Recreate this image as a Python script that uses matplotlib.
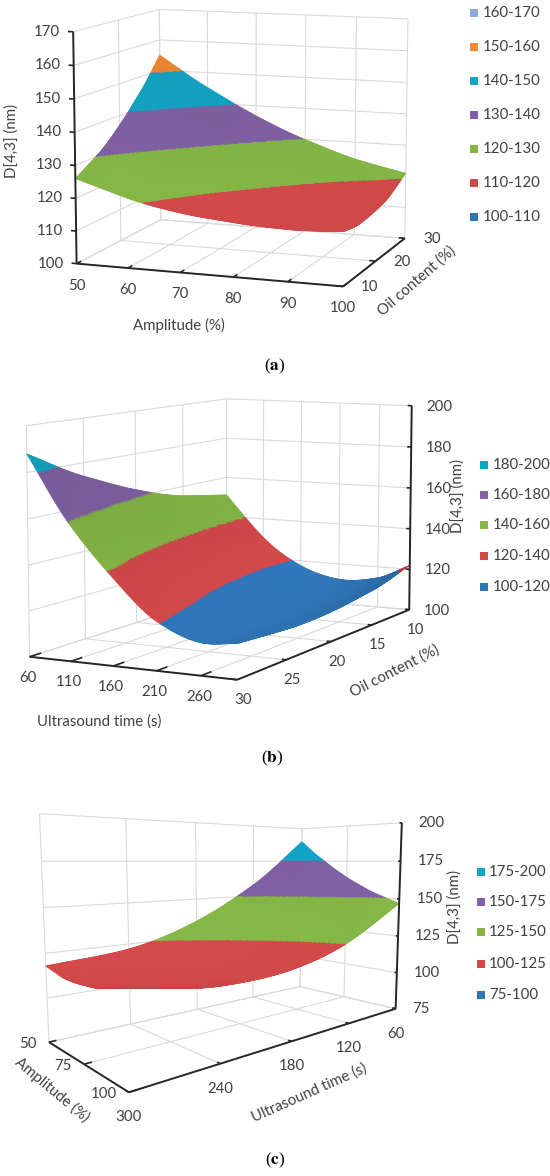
import numpy as np
import matplotlib
matplotlib.use("Agg")
import matplotlib.pyplot as plt
import matplotlib.tri as mtri
from matplotlib.colors import to_rgb
from matplotlib.patches import Rectangle
from matplotlib.transforms import offset_copy

plt.rcParams['font.family'] = ['Lato', 'DejaVu Sans']
plt.rcParams['mathtext.fontset'] = 'stix'

# ---------------- data (a) ----------------
a_amplitude = [50, 60, 70, 80, 90, 100]
a_oil = [10, 15, 20, 25, 30]
a_d43 = [
    [126.0, 121.2, 117.9, 116.2, 115.4, 116.0],
    [130.6, 124.5, 119.9, 116.9, 115.2, 115.0],
    [137.0, 129.6, 123.7, 119.5, 116.8, 115.7],
    [145.1, 136.4, 129.3, 123.8, 119.8, 117.5],
    [155.0, 145.1, 136.7, 129.9, 124.6, 121.0],
]
a_levels = [100, 110, 120, 130, 140, 150, 160, 170]
a_amp_ticks = [50, 60, 70, 80, 90, 100]
a_oil_ticks = [10, 20, 30]
a_z_ticks = [100, 110, 120, 130, 140, 150, 160, 170]

# ---------------- data (b) ----------------
b_time = [60, 110, 160, 210, 260, 300]
b_oil = [10, 15, 20, 25, 30]
b_d43 = [
    [151.0, 130.5, 117.6, 112.3, 114.6, 122.0],
    [155.5, 132.9, 117.9, 110.4, 110.6, 116.3],
    [163.2, 138.5, 121.3, 111.8, 109.8, 113.5],
    [174.0, 147.1, 127.9, 116.2, 111.8, 113.2],
    [188.0, 159.0, 137.8, 121.0, 113.8, 115.0],
]
b_levels = [100, 120, 140, 160, 180, 200]
b_time_ticks = [60, 110, 160, 210, 260]
b_time_end = 300
b_oil_ticks = [10, 15, 20, 25, 30]
b_z_ticks = [100, 120, 140, 160, 180, 200]

# ---------------- data (c) ----------------
c_amplitude = [50, 60, 70, 80, 90, 100]
c_time = [60, 120, 180, 240, 300]
c_d43 = [
    [190.0, 178.2, 168.0, 159.4, 152.4, 146.9],
    [158.0, 148.5, 140.7, 134.4, 129.7, 126.7],
    [135.3, 128.2, 122.7, 118.8, 116.5, 115.7],
    [122.0, 117.2, 114.1, 112.5, 112.6, 114.2],
    [118.0, 115.6, 114.8, 115.6, 118.0, 122.0],
]
c_levels = [75, 100, 125, 150, 175, 200]
c_amp_ticks = [50, 75, 100]
c_time_ticks = [60, 120, 180, 240, 300]
c_z_ticks = [75, 100, 125, 150, 175, 200]

band_colors = ['#2E75B6', '#D0484A', '#84B546', '#8061A4', '#12A6C6', '#F68B33', '#8FAADC']

GRID = '#D9D9D9'
AXC = '#262626'
TXT = '#404040'
FS = 10.8

W, H = 550, 1176
fig = plt.figure(figsize=(W / 100, H / 100), dpi=100)


def project(M, X, Y, Z):
    X = np.atleast_1d(np.asarray(X, float))
    Y = np.atleast_1d(np.asarray(Y, float))
    Z = np.atleast_1d(np.asarray(Z, float))
    v = np.vstack([X, Y, Z, np.ones_like(X)])
    w = M @ v
    return w[0] / w[3], w[1] / w[3]


def nelder_mead(f, x0, steps, iters=1500):
    x0 = np.asarray(x0, float)
    n = x0.size
    S = np.vstack([x0] + [x0 + np.eye(n)[i] * steps[i] for i in range(n)])
    F = np.array([f(s) for s in S])
    for _ in range(iters):
        o = np.argsort(F)
        S = S[o]
        F = F[o]
        if abs(F[-1] - F[0]) < 1e-10:
            break
        c = S[:-1].mean(axis=0)
        xr = c + (c - S[-1])
        fr = f(xr)
        if fr < F[0]:
            xe = c + 2 * (c - S[-1])
            fe = f(xe)
            if fe < fr:
                S[-1] = xe; F[-1] = fe
            else:
                S[-1] = xr; F[-1] = fr
        elif fr < F[-2]:
            S[-1] = xr; F[-1] = fr
        else:
            xc = c + 0.5 * (S[-1] - c)
            fc = f(xc)
            if fc < F[-1]:
                S[-1] = xc; F[-1] = fc
            else:
                S[1:] = S[0] + 0.5 * (S[1:] - S[0])
                F[1:] = [f(s) for s in S[1:]]
    i = int(np.argmin(F))
    return S[i], F[i]


def set_view(ax, q):
    az, el, lf, la, lb = q
    ax.view_init(elev=float(el), azim=float(az))
    ax.set_proj_type('persp', focal_length=float(np.exp(lf)))
    ax.set_box_aspect((float(np.exp(la)), float(np.exp(lb)), 1.0))


def make_axes(i, xlim, ylim, zlim):
    L0 = 200.0
    rect = [(20 + 30 * i) / W, (20 + 30 * i) / H, L0 / W, L0 / H]
    ax = fig.add_axes(rect, projection='3d', computed_zorder=False)
    ax.set_axis_off()
    ax.patch.set_alpha(0)
    ax.set_xlim(*xlim)
    ax.set_ylim(*ylim)
    ax.set_zlim(*zlim)
    return ax


def fit_view(ax, corners, targets, q0, steps):
    """Choose camera angles/box shape so the box corners land on the reference layout."""
    X, Y, Z = (np.array(v, float) for v in zip(*corners))
    T = np.array([[tx, H - ty] for tx, ty in targets], float)
    Td = ax.transData
    o = Td.transform((0.0, 0.0))
    ex = Td.transform((1.0, 0.0))
    ey = Td.transform((0.0, 1.0))
    sx0 = ex[0] - o[0]
    sy0 = ey[1] - o[1]
    r = sy0 / sx0
    n = len(X)

    def solve(q):
        set_view(ax, q)
        px, py = project(ax.get_proj(), X, Y, Z)
        A = np.zeros((2 * n, 3))
        b = np.concatenate([T[:, 0], T[:, 1]])
        A[:n, 0] = 1
        A[:n, 2] = px
        A[n:, 1] = 1
        A[n:, 2] = r * py
        sol = np.linalg.lstsq(A, b, rcond=None)[0]
        return float(np.sum((A @ sol - b) ** 2)), sol

    q, _ = nelder_mead(lambda q: solve(q)[0], q0, steps)
    q, _ = nelder_mead(lambda q: solve(q)[0], q, np.array(steps) * 0.3)
    err, sol = solve(q)
    cx, cy, s = sol
    k = s / sx0
    bb = ax.get_position()
    B0 = np.array([(bb.x0 + bb.x1) / 2 * W, (bb.y0 + bb.y1) / 2 * H])
    L0 = bb.width * W
    L = L0 * k
    Bx = cx + k * (B0[0] - o[0])
    By = cy + k * (B0[1] - o[1])
    ax.set_position([(Bx - L / 2) / W, (By - L / 2) / H, L / W, L / H])
    return q


def seg(ax, p, q, color, lw, z):
    ax.plot([p[0], q[0]], [p[1], q[1]], [p[2], q[2]], color=color, lw=lw,
            zorder=z, solid_capstyle='butt')


def walls(ax, xl, yl, zl, xgrid, ygrid, zgrid, xw, yw):
    (x0, x1), (y0, y1), (z0, z1) = xl, yl, zl
    for z in zgrid:
        seg(ax, (x0, yw, z), (x1, yw, z), GRID, 0.8, 1)
        seg(ax, (xw, y0, z), (xw, y1, z), GRID, 0.8, 1)
    for x in xgrid:
        seg(ax, (x, yw, z0), (x, yw, z1), GRID, 0.8, 1)
        seg(ax, (x, y0, z0), (x, y1, z0), GRID, 0.8, 1)
    for y in ygrid:
        seg(ax, (xw, y, z0), (xw, y, z1), GRID, 0.8, 1)
        seg(ax, (x0, y, z0), (x1, y, z0), GRID, 0.8, 1)


def label3(ax, x, y, z, s, dx, dy, ha='center', va='center'):
    px, py = project(ax.get_proj(), x, y, z)
    ax.text2D(px[0], py[0], s, ha=ha, va=va, fontsize=FS, color=TXT,
              transform=offset_copy(ax.transData, fig=fig, x=dx, y=dy, units='dots'))


def surface(ax, xv, yv, zg, levels, colors, q, zl):
    xv = np.asarray(xv, float)
    yv = np.asarray(yv, float)
    zg = np.asarray(zg, float)
    Ug, Vg = np.meshgrid((xv - xv[0]) / (xv[-1] - xv[0]), (yv - yv[0]) / (yv[-1] - yv[0]))
    tr = mtri.Triangulation(Ug.ravel(), Vg.ravel())
    interp = mtri.CubicTriInterpolator(tr, zg.ravel(), kind='geom')
    n = 150
    t = np.linspace(1e-7, 1 - 1e-7, n)
    U, V = np.meshgrid(t, t)
    Zf = np.ma.filled(interp(U, V), np.nan)
    if np.isnan(Zf).any():
        lin = mtri.LinearTriInterpolator(tr, zg.ravel())
        Zl = np.ma.filled(lin(U, V), np.nan)
        Zf = np.where(np.isnan(Zf), Zl, Zf)
    Xf = xv[0] + U * (xv[-1] - xv[0])
    Yf = yv[0] + V * (yv[-1] - yv[0])
    # value at the centre of each facet decides its band
    Zc = Zf.copy()
    Zc[:-1, :-1] = 0.25 * (Zf[:-1, :-1] + Zf[1:, :-1] + Zf[:-1, 1:] + Zf[1:, 1:])
    idx = np.clip(np.searchsorted(levels, Zc, side='right') - 1, 0, len(levels) - 2)
    rgb = np.array([to_rgb(c) for c in colors])[idx]
    # mild shading
    ax_, ay_ = np.exp(q[3]), np.exp(q[4])
    zb = (Zf - zl[0]) / (zl[1] - zl[0])
    gy, gx = np.gradient(zb, t * ay_, t * ax_)
    nrm = np.dstack([-gx, -gy, np.ones_like(gx)])
    nrm /= np.linalg.norm(nrm, axis=2, keepdims=True)
    Ld = np.array([0.35, 0.1, 1.0])
    Ld /= np.linalg.norm(Ld)
    dot = nrm @ Ld
    fac = np.clip(1 - 0.4 * (0.94 - dot), 0.72, 1.06)
    rgb = np.clip(rgb * fac[..., None], 0, 1)
    fc = np.concatenate([rgb, np.ones(rgb.shape[:2] + (1,))], axis=2)
    ax.plot_surface(Xf, Yf, Zf, facecolors=fc, rstride=1, cstride=1, linewidth=0.45,
                    antialiased=True, shade=False, zorder=2)


def ftext(x, y, s, **kw):
    kw.setdefault('color', TXT)
    kw.setdefault('fontsize', FS)
    fig.text(x / W, 1 - y / H, s, ha=kw.pop('ha', 'center'), va=kw.pop('va', 'center'),
             rotation_mode='anchor', **kw)


def legend(levels, colors, xsq, xtxt, ys):
    n = len(levels) - 1
    for i in range(n):
        j = n - 1 - i
        y = ys[i]
        fig.add_artist(Rectangle(((xsq) / W, 1 - (y + 4) / H), 8 / W, 8 / H,
                                 transform=fig.transFigure, color=colors[j], lw=0))
        ftext(xtxt, y, f'{levels[j]}-{levels[j + 1]}', ha='left')


def caption(x, y, letter):
    ftext(x, y, r'($\mathbf{' + letter + r'}$)', family='Liberation Serif',
          fontsize=12.5, color='black')


# ---------------- axes and view fitting ----------------
axA = make_axes(0, (50, 100), (10, 30), (100, 170))
axB = make_axes(1, (60, 300), (30, 10), (100, 200))
axC = make_axes(2, (50, 100), (300, 60), (75, 200))
fig.canvas.draw()

qA = fit_view(
    axA,
    [(50, 10, 100), (100, 10, 100), (100, 30, 100), (50, 30, 100),
     (50, 10, 170), (50, 30, 170), (100, 30, 170)],
    [(77, 263), (343, 287), (405, 238), (160, 220), (73, 32), (160, 10), (408, 18)],
    [-72, 16, np.log(2.0), np.log(1.17), np.log(0.875)], [5, 5, 0.5, 0.2, 0.2])
qB = fit_view(
    axB,
    [(60, 30, 100), (300, 30, 100), (300, 10, 100), (60, 10, 100),
     (60, 30, 200), (60, 10, 200), (300, 10, 200)],
    [(30, 652), (238, 683), (408, 605), (227, 600), (25, 427), (227, 397), (412, 406)],
    [-57, 13, np.log(2.0), np.log(1.13), np.log(1.53)], [5, 5, 0.5, 0.2, 0.2])
qC = fit_view(
    axC,
    [(50, 300, 75), (100, 300, 75), (100, 60, 75), (50, 60, 75),
     (50, 300, 200), (50, 60, 200), (100, 60, 200)],
    [(50, 1038), (130, 1094), (393, 1006), (302, 992), (37, 814), (302, 828), (403, 823)],
    [-35, 25, np.log(0.6), np.log(0.65), np.log(1.56)], [5, 5, 0.5, 0.2, 0.2])

# ---------------- panel (a) ----------------
ax = axA
walls(ax, (50, 100), (10, 30), (100, 170), a_amp_ticks, a_oil_ticks, a_z_ticks, 50, 30)
surface(ax, a_amplitude, a_oil, a_d43, a_levels, band_colors, qA, (100, 170))
seg(ax, (50, 10, 100), (100, 10, 100), AXC, 1.4, 3)
seg(ax, (100, 10, 100), (100, 30, 100), AXC, 1.4, 3)
seg(ax, (50, 10, 100), (50, 10, 170), AXC, 1.4, 3)
for z in a_z_ticks:
    seg(ax, (50, 10, z), (49, 10, z), AXC, 1.2, 3)
    label3(ax, 50, 10, z, f'{z}', -13, 0, ha='right')
for x in a_amp_ticks:
    seg(ax, (x, 10, 100), (x, 11, 100), AXC, 1.2, 3)
    label3(ax, x, 10, 100, f'{x}', 0, -22)
for y in a_oil_ticks:
    seg(ax, (100, y, 100), (98.8, y, 100), AXC, 1.2, 3)
    label3(ax, 100, y, 100, f'{y}', 18, -1, ha='left')
ftext(179, 325, 'Amplitude (%)')
ftext(417, 281, 'Oil content (%)', rotation=41)
ftext(12, 141, 'D[4,3] (nm)', rotation=90)
legend(a_levels, band_colors, 470, 483, [13, 47, 81, 115, 149, 183, 217])
caption(275, 366, 'a')

# ---------------- panel (b) ----------------
ax = axB
walls(ax, (60, 300), (30, 10), (100, 200), b_time_ticks + [b_time_end], b_oil_ticks,
      b_z_ticks, 60, 10)
surface(ax, b_time, b_oil, b_d43, b_levels, band_colors, qB, (100, 200))
seg(ax, (60, 30, 100), (300, 30, 100), AXC, 1.4, 3)
seg(ax, (300, 30, 100), (300, 10, 100), AXC, 1.4, 3)
seg(ax, (300, 10, 100), (300, 10, 200), AXC, 1.4, 3)
for z in b_z_ticks:
    seg(ax, (300, 10, z), (295, 10, z), AXC, 1.2, 3)
    label3(ax, 300, 10, z, f'{z}', 15, -1, ha='left')
for x in b_time_ticks:
    seg(ax, (x, 30, 100), (x, 29, 100), AXC, 1.2, 3)
    label3(ax, x, 30, 100, f'{x}', -2, -21)
for y in b_oil_ticks:
    seg(ax, (300, y, 100), (295, y, 100), AXC, 1.2, 3)
    label3(ax, 300, y, 100, f'{y}', 6, -20)
ftext(99, 722, 'Ultrasound time (s)')
ftext(395, 671, 'Oil content (%)', rotation=27)
ftext(458, 496, 'D[4,3] (nm)', rotation=90)
legend(b_levels, band_colors, 480, 493, [465, 495, 525, 556, 587])
caption(272, 758, 'b')

# ---------------- panel (c) ----------------
ax = axC
walls(ax, (50, 100), (300, 60), (75, 200), c_amp_ticks, c_time_ticks, c_z_ticks, 50, 60)
surface(ax, c_amplitude, c_time, c_d43, c_levels, band_colors, qC, (75, 200))
seg(ax, (50, 300, 75), (100, 300, 75), AXC, 1.4, 3)
seg(ax, (100, 300, 75), (100, 60, 75), AXC, 1.4, 3)
seg(ax, (100, 60, 75), (100, 60, 200), AXC, 1.4, 3)
for z in c_z_ticks:
    seg(ax, (100, 60, z), (99, 60, z), AXC, 1.2, 3)
    label3(ax, 100, 60, z, f'{z}', 17, 0, ha='left')
for x in c_amp_ticks:
    seg(ax, (x, 300, 75), (x, 295, 75), AXC, 1.2, 3)
    label3(ax, x, 300, 75, f'{x}', -12, -2, ha='right')
for y in c_time_ticks:
    seg(ax, (100, y, 75), (98.5, y, 75), AXC, 1.2, 3)
    label3(ax, 100, y, 75, f'{y}', 0, -25)
ftext(52, 1090, 'Amplitude (%)', rotation=-40)
ftext(309, 1093, 'Ultrasound time (s)', rotation=24)
ftext(455, 907, 'D[4,3] (nm)', rotation=90)
legend(c_levels, band_colors, 477, 489, [872, 902, 932, 964, 995])
caption(275, 1160, 'c')

fig.savefig('out.png', dpi=100)
